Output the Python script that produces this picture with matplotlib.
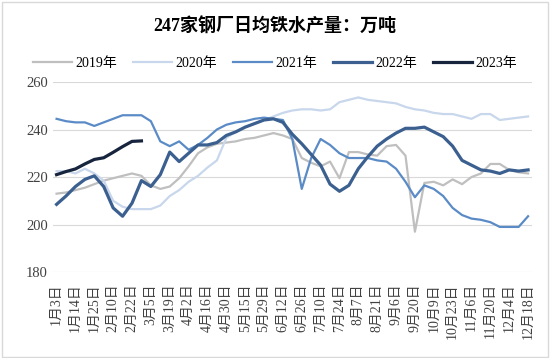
#! /usr/bin/env python3
# -*- coding:utf-8 -*-

# 247家钢厂日均铁水产量

import matplotlib.pyplot as plt
from matplotlib.patches import Rectangle
import numpy as np

plt.rcParams['font.family'] = ['Liberation Serif', 'Noto Sans CJK SC']

dates = ["1月3日", "1月14日", "1月25日", "2月10日", "2月22日", "3月5日",
         "3月19日", "4月2日", "4月16日", "4月30日", "5月15日", "5月29日",
         "6月12日", "6月26日", "7月10日", "7月24日", "8月7日", "8月21日",
         "9月6日", "9月20日", "10月9日", "10月23日", "11月6日", "11月20日",
         "12月4日", "12月18日"]

y2019 = [213, 213.5, 214.5, 215.5, 217, 218.5, 219.5, 220.5, 221.5, 220.5,
         216.5, 215, 216, 219.5, 224.5, 230, 232.5, 234, 234.5, 235,
         236, 236.5, 237.5, 238.5, 237.5, 236, 228, 226, 224.5, 226.5,
         219.5, 230.5, 230.5, 229.5, 229, 233, 233.5, 229, 197, 217.5,
         218, 216.5, 219, 217, 220, 221.5, 225.5, 225.5, 223, 222, 221.5]
y2020 = [222.5, 222.5, 221.5, 223.5, 221.5, 218.5, 210, 207.5, 206.5, 206.5,
         206.5, 208, 212, 214.5, 218, 220.5, 224, 227, 236.5, 239,
         241, 242.5, 244, 245.5, 247, 248, 248.5, 248.5, 248, 248.5,
         251.5, 252.5, 253.5, 252.5, 252, 251.5, 251, 249.5, 248.5, 248,
         247, 246.5, 246.5, 245.5, 244.5, 246.5, 246.5, 244, 244.5, 245, 245.5]
y2021 = [244.5, 243.5, 243, 243, 241.5, 243, 244.5, 246, 246, 246,
         243.5, 235, 233, 235, 231.5, 233.5, 236.5, 240, 242, 243,
         243.5, 244.5, 245, 244.5, 244, 236, 215, 228, 236, 233.5,
         230, 228, 228, 228, 227, 226.5, 223.5, 218, 211.5, 216.5,
         215, 212, 207, 204, 202.5, 202, 201, 199, 199, 199, 203.5]
y2022 = [208.5, 212, 216, 219, 220.5, 216, 207, 203.5, 209, 218.5,
         216, 221, 230.5, 226.5, 230, 233.5, 233.5, 234.5, 237.5, 239,
         241, 242.5, 244, 244.5, 243, 238, 234, 229.5, 225, 217,
         214, 216.5, 223.5, 228.5, 233, 236, 238.5, 240.5, 240.5, 241,
         239, 237, 233, 227, 225, 223, 222.5, 221.5, 223, 222.5, 223]
y2023 = [221, 222.3, 223.4, 225.5, 227.4, 228.1, 230.4, 232.8, 235, 235.2]

fig = plt.figure(figsize=(5.5, 3.58), dpi=100)
ax = fig.add_axes([0.096, 0.240, 0.871, 0.531])

x = np.arange(len(y2019))
ax.plot(x, y2019, color='#bfbfbf', lw=1.6, label='2019年')
ax.plot(x, y2020, color='#c8d7eb', lw=1.6, label='2020年')
ax.plot(x, y2021, color='#5b8bc6', lw=1.6, label='2021年')
ax.plot(x, y2022, color='#3b6090', lw=2.3, label='2022年')
ax.plot(np.arange(len(y2023)), y2023, color='#17243d', lw=2.3, label='2023年')

ax.set_ylim(180, 260)
ax.set_yticks([180, 200, 220, 240, 260])
ax.set_xlim(-0.4, 50.4)
ax.set_xticks(np.arange(0, 51, 2))
ax.set_xticklabels(dates, rotation=90)
ax.tick_params(axis='both', length=0, labelsize=10.5, colors='#404040')
ax.tick_params(axis='x', labelsize=10, pad=8)
ax.grid(axis='y', color='#d9d9d9', lw=0.8)
for s in ax.spines.values():
    s.set_visible(False)

fig.text(0.5, 0.925, "247家钢厂日均铁水产量：万吨", ha='center', va='center',
         fontsize=13, fontweight='bold')
fig.legend(loc='center', bbox_to_anchor=(0.5, 0.823), ncol=5, frameon=False,
           fontsize=10, handlelength=2.8, handletextpad=0.2, columnspacing=1.2)

fig.patches.append(Rectangle((0.003, 0.004), 0.994, 0.99, transform=fig.transFigure,
                             fill=False, edgecolor='#d9d9d9', lw=1))

plt.savefig('out.png', dpi=100)
